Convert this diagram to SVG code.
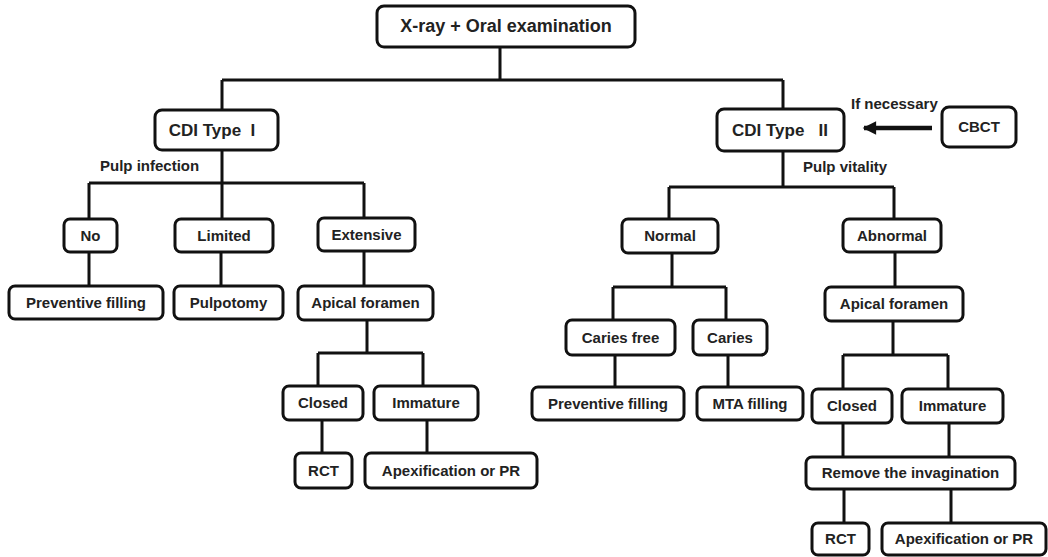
<svg xmlns="http://www.w3.org/2000/svg" width="1048" height="557" viewBox="0 0 1048 557">
<style>
.box{fill:#fff;stroke:#111;stroke-width:3}
.t{font-family:"Liberation Sans",Arial,sans-serif;font-weight:bold;font-size:15px;fill:#222;text-anchor:middle}
.big{font-size:17px}
.lbl{font-family:"Liberation Sans",Arial,sans-serif;font-weight:bold;font-size:15px;fill:#222}
.c{fill:none;stroke:#111;stroke-width:3}
</style>
<defs>
<marker id="ah" viewBox="0 0 10 10" refX="9" refY="5" markerWidth="4" markerHeight="3" orient="auto" markerUnits="strokeWidth">
<path d="M0,0 L10,5 L0,10 z" fill="#111"/>
</marker>
</defs>
<rect width="1048" height="557" fill="#fff"/>
<g id="connectors">
<path class="c" d="M500,47 V80 M222,80 H783 M222,80 V110 M783,80 V109"/>
<path class="c" d="M222,150 V219 M89,183 H364 M89,183 V221 M364,183 V218"/>
<path class="c" d="M89,252 V286 M221,252 V286 M364,251 V286"/>
<path class="c" d="M367,320 V353 M318,353 H423 M318,353 V386 M423,353 V386"/>
<path class="c" d="M322,420 V453 M427,420 V453"/>
<path class="c" d="M783,151 V187 M669,187 H894 M669,187 V219 M894,187 V219"/>
<path class="c" d="M672,253 V287 M613,287 H726 M613,287 V320 M726,287 V320"/>
<path class="c" d="M615,355 V387 M728,355 V387"/>
<path class="c" d="M895,252 V287 M893,321 V355 M843,355 H948 M843,355 V389 M948,355 V389"/>
<path class="c" d="M843,423 V457 M949,423 V457 M844,489 V523 M951,489 V523"/>
<line x1="932" y1="128" x2="864" y2="128" stroke="#111" stroke-width="4.5" marker-end="url(#ah)"/>
</g>
<g id="labels">
<text class="lbl" x="100" y="171">Pulp infection</text>
<text class="lbl" x="851" y="109">If necessary</text>
<text class="lbl" x="803" y="172">Pulp vitality</text>
</g>
<g id="n-top"><rect class="box" x="377" y="6" width="258" height="41" rx="7"/><text class="t" x="506" y="32" style="font-size:18px">X-ray + Oral examination</text></g>
<g id="n-cdi1"><rect class="box" x="155" y="110" width="123" height="40" rx="7"/><text class="t big" x="212" y="136" xml:space="preserve">CDI Type  I</text></g>
<g id="n-cdi2"><rect class="box" x="717" y="109" width="127" height="42" rx="7"/><text class="t big" x="780" y="136" xml:space="preserve">CDI Type   II</text></g>
<g id="n-cbct"><rect class="box" x="942" y="107" width="74" height="40" rx="7"/><text class="t" x="979" y="132">CBCT</text></g>
<g id="n-no"><rect class="box" x="64" y="219" width="53" height="33" rx="6"/><text class="t" x="90.5" y="241">No</text></g>
<g id="n-limited"><rect class="box" x="175" y="219" width="98" height="33" rx="6"/><text class="t" x="224" y="241">Limited</text></g>
<g id="n-extensive"><rect class="box" x="318" y="218" width="97" height="33" rx="6"/><text class="t" x="366.5" y="240">Extensive</text></g>
<g id="n-prev1"><rect class="box" x="9" y="286" width="154" height="33" rx="6"/><text class="t" x="86" y="308">Preventive filling</text></g>
<g id="n-pulpotomy"><rect class="box" x="174" y="286" width="109" height="33" rx="6"/><text class="t" x="228.5" y="308">Pulpotomy</text></g>
<g id="n-apical1"><rect class="box" x="298" y="286" width="135" height="34" rx="6"/><text class="t" x="365.5" y="308">Apical foramen</text></g>
<g id="n-closed1"><rect class="box" x="283" y="386" width="80" height="34" rx="6"/><text class="t" x="323" y="408">Closed</text></g>
<g id="n-immature1"><rect class="box" x="374" y="386" width="104" height="34" rx="6"/><text class="t" x="426" y="408">Immature</text></g>
<g id="n-rct1"><rect class="box" x="295" y="453" width="57" height="35" rx="6"/><text class="t" x="323.5" y="476">RCT</text></g>
<g id="n-apex1"><rect class="box" x="365" y="453" width="172" height="35" rx="6"/><text class="t" x="451" y="476">Apexification or PR</text></g>
<g id="n-normal"><rect class="box" x="622" y="219" width="96" height="34" rx="6"/><text class="t" x="670" y="241">Normal</text></g>
<g id="n-abnormal"><rect class="box" x="843" y="219" width="98" height="33" rx="6"/><text class="t" x="892" y="241">Abnormal</text></g>
<g id="n-cariesfree"><rect class="box" x="566" y="320" width="109" height="35" rx="6"/><text class="t" x="620.5" y="343">Caries free</text></g>
<g id="n-caries"><rect class="box" x="693" y="320" width="74" height="35" rx="6"/><text class="t" x="730" y="343">Caries</text></g>
<g id="n-prev2"><rect class="box" x="532" y="387" width="152" height="33" rx="6"/><text class="t" x="608" y="409">Preventive filling</text></g>
<g id="n-mta"><rect class="box" x="697" y="387" width="106" height="33" rx="6"/><text class="t" x="750" y="409">MTA filling</text></g>
<g id="n-apical2"><rect class="box" x="825" y="287" width="138" height="34" rx="6"/><text class="t" x="894" y="309">Apical foramen</text></g>
<g id="n-closed2"><rect class="box" x="812" y="389" width="80" height="34" rx="6"/><text class="t" x="852" y="411">Closed</text></g>
<g id="n-immature2"><rect class="box" x="902" y="389" width="101" height="34" rx="6"/><text class="t" x="952.5" y="411">Immature</text></g>
<g id="n-remove"><rect class="box" x="806" y="457" width="209" height="32" rx="6"/><text class="t" x="910.5" y="478">Remove the invagination</text></g>
<g id="n-rct2"><rect class="box" x="812" y="523" width="57" height="32" rx="6"/><text class="t" x="840.5" y="544">RCT</text></g>
<g id="n-apex2"><rect class="box" x="882" y="523" width="164" height="32" rx="6"/><text class="t" x="964" y="544">Apexification or PR</text></g>
</svg>
